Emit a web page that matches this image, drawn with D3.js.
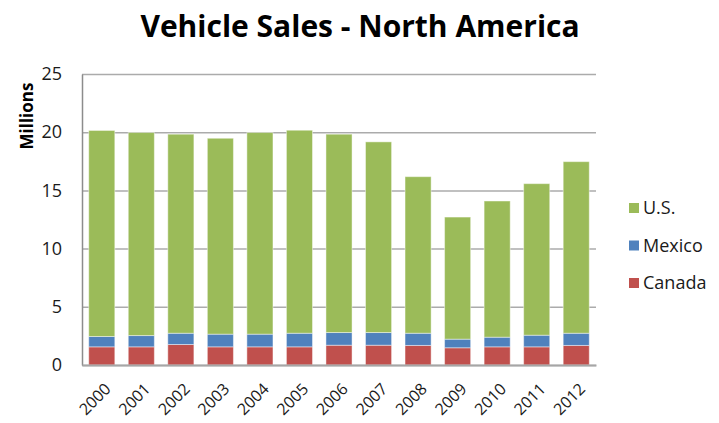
<!DOCTYPE html>
<html>
<head>
<meta charset="utf-8">
<script src="https://cdn.jsdelivr.net/npm/d3@7"></script>
<style>
  body { margin: 0; background: #fff; }
  text { font-family: "Open Sans", "Liberation Sans", sans-serif; fill: #1a1a1a; }
</style>
</head>
<body>
<div id="chart"></div>
<script>
// data (millions)
var years = ["2000","2001","2002","2003","2004","2005","2006","2007","2008","2009","2010","2011","2012"];
var canada = [1.56,1.56,1.76,1.56,1.56,1.56,1.70,1.70,1.68,1.48,1.56,1.56,1.68];
var mexico = [0.89,0.97,0.97,1.09,1.09,1.17,1.09,1.09,1.05,0.74,0.83,1.00,1.05];
var us     = [17.70,17.44,17.10,16.83,17.32,17.44,17.04,16.38,13.45,10.49,11.70,13.02,14.74];
var yTicks = [0,5,10,15,20,25];
var seriesNames = ["Canada","Mexico","U.S."];
var seriesColors = ["#C0504D","#4F81BD","#9BBB59"];

var W = 719, H = 423;
var margin = {top: 74, right: 123, bottom: 58, left: 82},
  width = W - margin.left - margin.right,
  height = H - margin.top - margin.bottom;

var svg = d3.select("#chart").append("svg")
  .attr("width", W).attr("height", H);

// title
svg.append("text")
  .attr("x", 360).attr("y", 37)
  .attr("text-anchor", "middle")
  .style("font-size", "30px").style("font-weight", "bold")
  .style("fill", "#000")
  .text("Vehicle Sales - North America");

var g = svg.append("g")
  .attr("transform", "translate(" + margin.left + "," + margin.top + ")");

var table = years.map(function(y, i) {
  return {year: y, "Canada": canada[i], "Mexico": mexico[i], "U.S.": us[i]};
});
var stacked = d3.stack().keys(seriesNames)(table);

var x = d3.scaleBand().domain(years).range([0, width]).paddingInner(0.34).paddingOuter(0.17);
var y = d3.scaleLinear().domain([0, 25]).range([height, 0]);
var color = d3.scaleOrdinal().domain(seriesNames).range(seriesColors);

// gridlines
g.append("g")
  .call(d3.axisLeft(y).tickValues(yTicks).tickSize(-width).tickFormat(""))
  .call(function(a) {
    a.select(".domain").remove();
    a.selectAll("line").attr("stroke", "#ababab").attr("stroke-width", 1.5);
  });

// bars
g.selectAll(".series")
  .data(stacked)
  .enter().append("g")
  .attr("fill", function(d) { return color(d.key); })
  .selectAll("rect")
  .data(function(d) { return d; })
  .enter().append("rect")
  .attr("x", function(d) { return x(d.data.year); })
  .attr("y", function(d) { return y(d[1]); })
  .attr("width", x.bandwidth())
  .attr("height", function(d) { return y(d[0]) - y(d[1]); })
  .attr("stroke", "rgba(255,255,255,0.45)")
  .attr("stroke-width", 1);

// y axis
g.append("g")
  .call(d3.axisLeft(y).tickValues(yTicks).tickSize(0).tickPadding(20))
  .call(function(a) {
    a.select(".domain").attr("stroke", "#8c8c8c").attr("stroke-width", 1.5);
    a.selectAll("text").style("font-size", "18px").style("font-family", "\"Open Sans\", sans-serif").attr("fill", "#1a1a1a");
  });

// x axis
g.append("g")
  .attr("transform", "translate(0," + height + ")")
  .call(d3.axisBottom(x).tickSize(0))
  .call(function(a) {
    a.select(".domain").attr("stroke", "#a6a6a6").attr("stroke-width", 2);
    a.selectAll("text")
      .attr("y", 0).attr("dy", 0)
      .attr("transform", "translate(10,25)rotate(-45)")
      .style("text-anchor", "end")
      .style("font-size", "16px")
      .style("font-family", "\"Open Sans\", sans-serif")
      .attr("fill", "#1a1a1a");
  });

// y label
svg.append("text")
  .attr("transform", "translate(33,116)rotate(-90)")
  .attr("text-anchor", "middle")
  .style("font-size", "17px").style("font-weight", "bold")
  .style("fill", "#000")
  .text("Millions");

// legend
var legendOrder = ["U.S.","Mexico","Canada"];
var legend = svg.append("g").attr("transform", "translate(629,208)");
var item = legend.selectAll("g").data(legendOrder).enter().append("g")
  .attr("transform", function(d, i) { return "translate(0," + (i * 37.5) + ")"; });
item.append("rect").attr("x", 0).attr("y", -5).attr("width", 10).attr("height", 10)
  .attr("fill", function(d) { return color(d); });
item.append("text").attr("x", 14).attr("y", 0).attr("dy", "0.35em")
  .style("font-size", "18px")
  .text(function(d) { return d; });
</script>
</body>
</html>
